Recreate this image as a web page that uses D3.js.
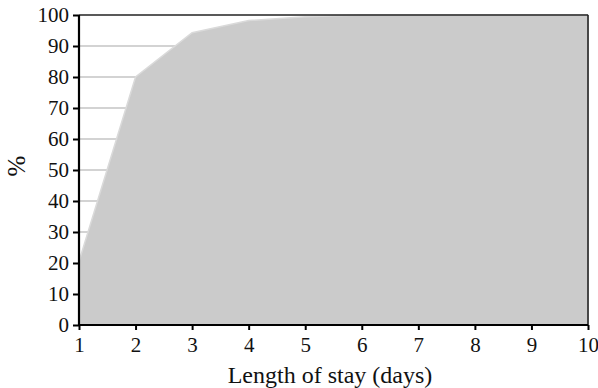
<!DOCTYPE html>
<html>
<head>
<meta charset="utf-8">
<script src="https://cdn.jsdelivr.net/npm/d3@7"></script>
<style>
  body { margin: 0; background: #fff; }
  svg text { font-family: "Liberation Serif", "Times New Roman", serif; fill: #111; }
</style>
</head>
<body>
<svg width="598" height="388"></svg>
<script>
const days = [1, 2, 3, 4, 5, 6, 7, 8, 9, 10];
const cumPercent = [20.5, 80, 94.3, 98.2, 99.4, 100, 100, 100, 100, 100];
const yTicks = [0, 10, 20, 30, 40, 50, 60, 70, 80, 90, 100];

const margin = {top: 15, right: 10, bottom: 63, left: 79};
const width = 598 - margin.left - margin.right;
const height = 388 - margin.top - margin.bottom;

const svg = d3.select("svg");
const chart = svg.append("g")
    .attr("transform", `translate(${margin.left}, ${margin.top})`);

const xScale = d3.scaleLinear().domain([1, 10]).range([0, width]);
const yScale = d3.scaleLinear().domain([0, 100]).range([height, 0]);

// gridlines
chart.append("g")
    .selectAll("line")
    .data(yTicks.slice(1, -1))
    .join("line")
    .attr("x1", 0).attr("x2", width)
    .attr("y1", d => yScale(d)).attr("y2", d => yScale(d))
    .attr("stroke", "#c4c4c4")
    .attr("stroke-width", 1.5);

const points = days.map((d, i) => ({x: d, y: cumPercent[i]}));

chart.append("path")
    .datum(points)
    .attr("fill", "#cbcbcb")
    .attr("stroke", "#dadada")
    .attr("stroke-width", 1.5)
    .attr("d", d3.area().x(d => xScale(d.x)).y0(height).y1(d => yScale(d.y)));

// frame
chart.append("line").attr("x1", 0).attr("x2", width).attr("y1", 0).attr("y2", 0)
    .attr("stroke", "#222").attr("stroke-width", 1.6);
chart.append("line").attr("x1", width).attr("x2", width).attr("y1", 0).attr("y2", height)
    .attr("stroke", "#222").attr("stroke-width", 1.6);

const yAxis = chart.append("g")
    .call(d3.axisLeft(yScale).tickValues(yTicks).tickSize(6).tickPadding(4));
const xAxis = chart.append("g")
    .attr("transform", `translate(0, ${height})`)
    .call(d3.axisBottom(xScale).tickValues(days).tickSize(5).tickPadding(7));

[yAxis, xAxis].forEach(ax => {
  ax.select(".domain").attr("stroke", "#000").attr("stroke-width", 2.2);
  ax.selectAll(".tick line").attr("stroke", "#000").attr("stroke-width", 2);
  ax.selectAll(".tick text").attr("font-size", 21).attr("fill", "#111")
    .attr("font-family", "Liberation Serif");
});
yAxis.select(".domain").attr("d", `M0,0V${height}`);
xAxis.select(".domain").attr("d", `M0,0H${width}`);

svg.append("text")
    .attr("x", 330)
    .attr("y", 383)
    .attr("text-anchor", "middle")
    .attr("font-size", 24)
    .text("Length of stay (days)");

svg.append("text")
    .attr("transform", "translate(25, 166) rotate(-90)")
    .attr("text-anchor", "middle")
    .attr("font-size", 25)
    .text("%");
</script>
</body>
</html>
